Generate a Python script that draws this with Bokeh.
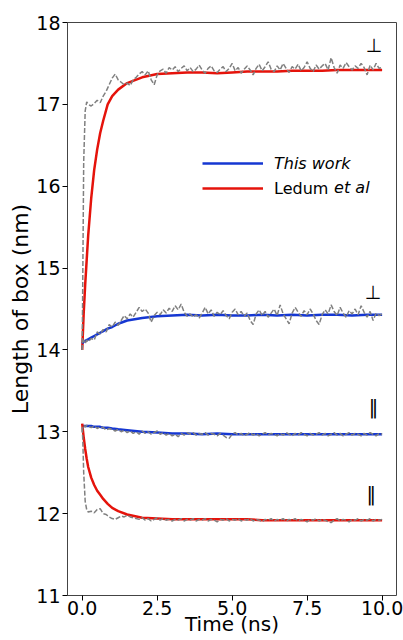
from bokeh.plotting import figure
from bokeh.models import (Legend, LegendItem, Label, FixedTicker,
                          NumeralTickFormatter, Range1d, ColumnDataSource)
from bokeh.core.properties import value
from bokeh.embed import file_html
from bokeh.resources import INLINE

# ---------------- data ----------------
T_SMOOTH = [0.0, 0.05, 0.1, 0.15, 0.2, 0.3, 0.4, 0.5, 0.6, 0.7, 0.85, 1.0, 1.2,
            1.5, 2.0, 2.5, 3.0, 3.5, 4.0, 4.5, 5.0, 5.5, 6.0, 6.5, 7.0, 7.5,
            8.0, 8.5, 9.0, 9.5, 10.0]

LEDUM_PERP = [14.0, 14.45, 14.8, 15.1, 15.4, 15.85, 16.2, 16.45, 16.65, 16.8,
              17.0, 17.1, 17.18, 17.26, 17.33, 17.37, 17.38, 17.39, 17.39,
              17.38, 17.39, 17.4, 17.4, 17.4, 17.41, 17.41, 17.41, 17.42,
              17.42, 17.42, 17.42]
THIS_PERP = [14.08, 14.1, 14.11, 14.12, 14.13, 14.15, 14.17, 14.19, 14.21,
             14.23, 14.26, 14.28, 14.32, 14.36, 14.39, 14.41, 14.42, 14.43,
             14.42, 14.43, 14.42, 14.42, 14.43, 14.42, 14.43, 14.42, 14.43,
             14.43, 14.42, 14.43, 14.43]
THIS_PAR = [13.07, 13.07, 13.07, 13.07, 13.07, 13.07, 13.06, 13.06, 13.06,
            13.05, 13.05, 13.04, 13.03, 13.02, 13.0, 12.99, 12.98, 12.98,
            12.97, 12.98, 12.97, 12.97, 12.97, 12.97, 12.97, 12.97, 12.97,
            12.97, 12.97, 12.97, 12.97]
LEDUM_PAR = [13.1, 12.93, 12.79, 12.67, 12.57, 12.44, 12.35, 12.28, 12.23,
             12.18, 12.12, 12.07, 12.03, 11.99, 11.95, 11.94, 11.93, 11.93,
             11.93, 11.93, 11.93, 11.93, 11.92, 11.92, 11.92, 11.92, 11.92,
             11.92, 11.92, 11.92, 11.92]

T_NOISY = [0.0, 0.02, 0.05, 0.1, 0.15] + [round(0.2 + 0.1 * i, 1) for i in range(99)]

REF_PERP_A = [14.0, 14.9, 16.3, 16.92, 17.03,
              17.0, 16.98, 17.01, 17.05, 17.02, 17.1, 17.16, 17.24, 17.32, 17.37,
              17.3, 17.27, 17.24, 17.26, 17.23, 17.3, 17.33, 17.37, 17.4,
              17.36, 17.41, 17.3, 17.24, 17.36, 17.41, 17.43, 17.38, 17.45, 17.42,
              17.46, 17.4, 17.44, 17.47, 17.41, 17.45, 17.4, 17.43, 17.48, 17.42,
              17.38, 17.44, 17.47, 17.41, 17.39, 17.43, 17.46, 17.4, 17.44, 17.5,
              17.41, 17.45, 17.38, 17.43, 17.47, 17.42, 17.36, 17.44, 17.49, 17.41,
              17.46, 17.52, 17.43, 17.4, 17.47, 17.42, 17.5, 17.44, 17.39, 17.46,
              17.43, 17.49, 17.41, 17.45, 17.52, 17.44, 17.4, 17.48, 17.43, 17.47,
              17.5, 17.42, 17.57, 17.45, 17.38, 17.48, 17.44, 17.51, 17.46, 17.42,
              17.47, 17.44, 17.5, 17.45, 17.36, 17.48, 17.42, 17.5, 17.44, 17.45]

REF_PERP_B = [14.0, 14.1, 14.12, 14.08, 14.12,
              14.1, 14.14, 14.12, 14.22, 14.19, 14.25, 14.22, 14.31, 14.28, 14.34,
              14.3, 14.36, 14.42, 14.38, 14.44, 14.4, 14.46, 14.52, 14.47,
              14.5, 14.45, 14.34, 14.42, 14.46, 14.43, 14.49, 14.45, 14.51, 14.47,
              14.54, 14.49, 14.56, 14.46, 14.41, 14.44, 14.4, 14.43, 14.39, 14.45,
              14.52, 14.44, 14.49, 14.41, 14.46, 14.43, 14.48, 14.42, 14.38, 14.46,
              14.5, 14.43, 14.47, 14.41, 14.45, 14.36, 14.31, 14.44, 14.49, 14.42,
              14.47, 14.4, 14.45, 14.5, 14.42, 14.55, 14.44, 14.38, 14.32, 14.45,
              14.52, 14.46, 14.41, 14.48, 14.43, 14.5, 14.44, 14.36, 14.31, 14.43,
              14.49, 14.44, 14.55, 14.47, 14.42, 14.52, 14.45, 14.4, 14.48, 14.44,
              14.5, 14.43, 14.54, 14.46, 14.4, 14.47, 14.36, 14.45, 14.42, 14.44]

REF_PAR_C = [13.0, 13.05, 13.08, 13.06, 13.08,
             13.07, 13.05, 13.07, 13.04, 13.06, 13.05, 13.02, 13.04, 13.03, 13.01,
             13.03, 13.0, 13.02, 12.99, 13.01, 12.98, 13.0, 12.97, 13.01,
             12.98, 13.0, 12.97, 12.99, 13.01, 12.97, 12.99, 12.96, 12.98, 12.95,
             12.97, 12.94, 12.98, 12.96, 12.99, 12.97, 12.99, 12.96, 12.98, 12.97,
             12.99, 12.96, 12.98, 12.97, 12.95, 12.98, 12.96, 12.93, 12.92, 12.97,
             12.99, 12.96, 12.98, 12.95, 12.97, 12.99, 12.96, 12.98, 12.95, 12.97,
             12.99, 12.96, 12.98, 12.97, 12.95, 12.98, 12.96, 12.99, 12.97, 12.95,
             12.98, 12.96, 12.99, 12.97, 12.95, 12.98, 12.96, 12.97, 12.99, 12.96,
             12.98, 12.95, 12.97, 12.99, 12.96, 12.98, 12.95, 12.97, 12.99, 12.96,
             12.98, 12.97, 12.95, 12.98, 12.96, 12.99, 12.97, 12.95, 12.98, 12.97]

REF_PAR_D = [13.05, 12.9, 12.5, 12.15, 12.05,
             12.02, 12.03, 12.01, 12.05, 12.06, 12.0, 11.99, 11.96, 11.94, 11.93,
             11.95, 11.97, 11.96, 11.98, 11.96, 11.95, 11.94, 11.93, 11.95,
             11.92, 11.94, 11.91, 11.93, 11.95, 11.92, 11.94, 11.92, 11.93, 11.91,
             11.93, 11.92, 11.94, 11.91, 11.93, 11.92, 11.94, 11.91, 11.93, 11.92,
             11.94, 11.91, 11.93, 11.92, 11.9, 11.93, 11.92, 11.94, 11.91, 11.93,
             11.92, 11.94, 11.91, 11.93, 11.92, 11.94, 11.91, 11.93, 11.92, 11.9,
             11.93, 11.92, 11.94, 11.91, 11.93, 11.92, 11.94, 11.91, 11.93, 11.92,
             11.94, 11.91, 11.93, 11.92, 11.9, 11.93, 11.92, 11.94, 11.91, 11.93,
             11.92, 11.9, 11.89, 11.92, 11.94, 11.91, 11.93, 11.92, 11.9, 11.93,
             11.92, 11.94, 11.91, 11.93, 11.92, 11.94, 11.91, 11.93, 11.92, 11.93]

X_TICKS = [0, 2.5, 5, 7.5, 10]
Y_TICKS = [11, 12, 13, 14, 15, 16, 17, 18]

ANNOT_TEXT = ["\u22a5", "\u22a5", "\u2016", "\u2016"]
ANNOT_X = [9.73, 9.7, 9.71, 9.64]
ANNOT_Y = [17.72, 14.71, 13.30, 12.24]

SERIES_LABELS = ["This work", "Ledum"]
X_LABEL = "Time (ns)"
Y_LABEL = "Length of box (nm)"

BLUE = "#1537d2"
RED = "#e5130b"
GRAY = "#808080"
FONT = "DejaVu Sans"

# ---------------- figure ----------------
p = figure(width=403, height=640, output_backend="svg", toolbar_location=None,
           x_range=Range1d(-0.49, 10.48), y_range=Range1d(11, 18),
           min_border_left=67, min_border_right=7, min_border_top=22,
           min_border_bottom=45)
p.background_fill_color = "white"
p.border_fill_color = "white"
p.xgrid.visible = False
p.ygrid.visible = False
p.outline_line_color = "#444444"
p.outline_line_width = 1

rl1 = p.line(T_SMOOTH, LEDUM_PERP, line_color=RED, line_width=2.5)
rb1 = p.line(T_SMOOTH, THIS_PERP, line_color=BLUE, line_width=2.5)
rb2 = p.line(T_SMOOTH, THIS_PAR, line_color=BLUE, line_width=2.5)
rl2 = p.line(T_SMOOTH, LEDUM_PAR, line_color=RED, line_width=2.5)

for ys in (REF_PERP_A, REF_PERP_B, REF_PAR_C, REF_PAR_D):
    p.line(T_NOISY, ys, line_color=GRAY, line_width=1.5, line_dash="5 2")

src = ColumnDataSource(dict(x=ANNOT_X, y=ANNOT_Y, t=ANNOT_TEXT))
p.text(x="x", y="y", text="t", source=src, text_font=value(FONT),
       text_font_size=value("19px"), text_align="center",
       text_baseline="middle", text_color="black")

for ax in (p.xaxis[0], p.yaxis[0]):
    ax.axis_line_color = None
    ax.major_tick_in = 0
    ax.major_tick_out = 5
    ax.major_tick_line_color = "black"
    ax.major_tick_line_width = 1
    ax.minor_tick_line_color = None
    ax.major_label_text_font = FONT
    ax.major_label_text_font_size = "19px"
    ax.major_label_text_color = "black"
    ax.axis_label_text_font = FONT
    ax.axis_label_text_font_style = "normal"
    ax.axis_label_text_color = "black"
p.yaxis[0].major_label_standoff = 2
p.xaxis[0].major_label_standoff = 0

p.xaxis[0].ticker = FixedTicker(ticks=X_TICKS)
p.xaxis[0].formatter = NumeralTickFormatter(format="0.0")
p.yaxis[0].ticker = FixedTicker(ticks=Y_TICKS)

p.yaxis[0].axis_label = Y_LABEL
p.yaxis[0].axis_label_text_font_size = "22px"
p.yaxis[0].axis_label_standoff = 0

p.xaxis[0].axis_label = X_LABEL
p.xaxis[0].axis_label_text_font_size = "20px"
p.xaxis[0].axis_label_standoff = -6

common = dict(padding=0, spacing=0, margin=0, glyph_width=61, glyph_height=20,
              label_height=20, label_standoff=11, label_text_font=FONT,
              label_text_font_size="16px", label_text_color="black",
              border_line_color=None, background_fill_alpha=0)
leg1 = Legend(items=[LegendItem(label=SERIES_LABELS[0], renderers=[rb1])],
              location=(135, 422), label_text_font_style="italic", **common)
leg2 = Legend(items=[LegendItem(label=SERIES_LABELS[1], renderers=[rl1])],
              location=(135, 397), label_text_font_style="normal", **common)
p.add_layout(leg1)
p.add_layout(leg2)
p.add_layout(Label(x=8.40, y=15.984, text="et al", text_align="left",
                   text_baseline="middle", text_font=FONT,
                   text_font_size="16px", text_font_style="italic",
                   text_color="black"))

open("out.html", "w").write(file_html(p, INLINE))
